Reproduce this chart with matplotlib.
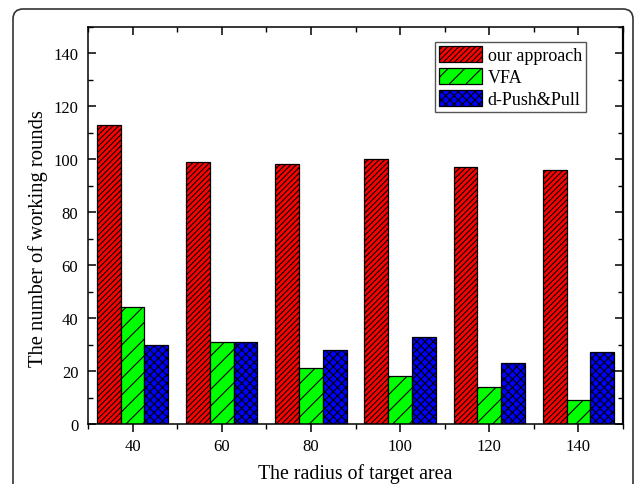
import matplotlib
matplotlib.use("Agg")
import matplotlib.pyplot as plt
import numpy as np
from matplotlib.patches import FancyBboxPatch
from matplotlib.ticker import MultipleLocator

categories = [40, 60, 80, 100, 120, 140]
our_approach = [113, 99, 98, 100, 97, 96]
vfa = [44, 31, 21, 18, 14, 9]
d_push_pull = [30, 31, 28, 33, 23, 27]
series_names = ["our approach", "VFA", "d-Push&Pull"]

plt.rcParams['font.family'] = ['Liberation Serif', 'DejaVu Serif']
plt.rcParams['hatch.linewidth'] = 0.8

fig = plt.figure(figsize=(6.34, 4.85), dpi=100)
ax = fig.add_axes([88/634, 60/485, (623-88)/634, (425-27.5)/485])

# rounded outer frame
frame = FancyBboxPatch((0.13, -0.3), 6.20, 5.05,
                       boxstyle="round,pad=0,rounding_size=0.1",
                       transform=fig.dpi_scale_trans, fill=False,
                       edgecolor='#333333', linewidth=1.2, zorder=0)
fig.patches.append(frame)

x = np.array(categories, dtype=float)
w = 16/3
ax.bar(x - w, our_approach, w, color='#ff0000', edgecolor='black', hatch='//////', linewidth=0.9, label=series_names[0])
ax.bar(x, vfa, w, color='#00ff00', edgecolor='black', hatch='//', linewidth=0.9, label=series_names[1])
ax.bar(x + w, d_push_pull, w, color='#0000ff', edgecolor='black', hatch='xxxx', linewidth=0.9, label=series_names[2])

ax.set_xlim(30, 150)
ax.set_ylim(0, 150)
ax.set_xticks(categories)
ax.set_yticks(np.arange(0, 141, 20))
ax.xaxis.set_minor_locator(MultipleLocator(10))
ax.yaxis.set_minor_locator(MultipleLocator(10))

ax.tick_params(axis='x', which='both', direction='out', top=True, labelsize=12, pad=4)
ax.tick_params(axis='y', which='both', direction='in', right=True, labelsize=12, pad=7)
ax.tick_params(which='major', length=6, width=1.1)
ax.tick_params(which='minor', length=3.5, width=1.0)
# top ticks inward
for t in ax.xaxis.get_major_ticks() + ax.xaxis.get_minor_ticks():
    t.tick2line.set_marker(3)
for sp in ax.spines.values():
    sp.set_linewidth(1.1)
ax.spines['right'].set_linewidth(1.6)

ax.set_xlabel("The radius of target area", fontsize=14.3)
ax.set_ylabel("The number of working rounds", fontsize=14.9)
ax.xaxis.set_label_coords(0.5, -0.098)
ax.yaxis.set_label_coords(-0.074, 0.468)

leg = ax.legend(loc='upper right', bbox_to_anchor=(0.93, 0.96), fontsize=13,
                fancybox=False, edgecolor='#555555', framealpha=1,
                handlelength=2.4, handleheight=1.0, handletextpad=0.3,
                borderpad=0.2, labelspacing=0.2, borderaxespad=0)
leg.get_frame().set_linewidth(1.0)

fig.savefig("out.png", dpi=100)
